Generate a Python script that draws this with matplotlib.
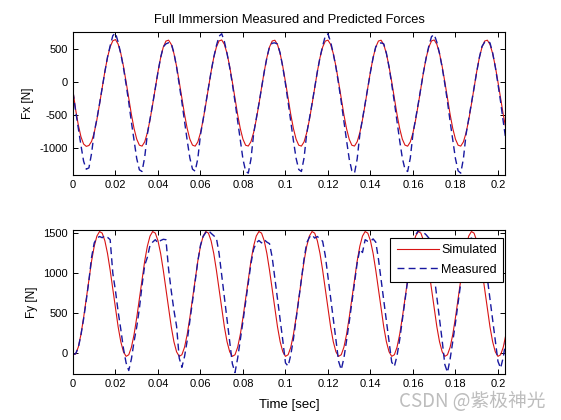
import numpy as np
import matplotlib

matplotlib.use("Agg")
import matplotlib.pyplot as plt

# sample step of the traces [s]
DT = 0.00125

# Fx, simulated (red) and measured (blue)
FX_SIM = [
    -140, -420, -650, -830, -940, -975, -962, -900, -768, -572, -336, -86, 158, 370, 530, 622, 640, 572, 432, 236,
    0, -251, -494, -706, -866, -957, -971, -907, -770, -575, -340, -89, 154, 366, 526, 617, 631, 567, 430, 235,
    2, -250, -492, -705, -866, -956, -972, -908, -771, -576, -340, -88, 156, 368, 528, 620, 634, 568, 430, 233,
    -2, -253, -496, -708, -867, -958, -970, -905, -768, -572, -338, -86, 155, 367, 527, 618, 630, 565, 428, 232,
    0, -251, -494, -706, -866, -957, -971, -907, -770, -575, -340, -89, 154, 366, 526, 617, 631, 567, 430, 235,
    -2, -253, -496, -708, -867, -958, -970, -905, -768, -572, -338, -86, 155, 367, 527, 618, 630, 565, 428, 232,
    2, -250, -492, -705, -866, -956, -972, -908, -771, -576, -340, -88, 156, 368, 528, 620, 634, 568, 430, 233,
    0, -251, -494, -706, -866, -957, -971, -907, -770, -575, -340, -89, 154, 366, 526, 617, 631, 567, 430, 235,
    0, -251, -494, -706,
]
FX_MEAS = [
    -150, -440, -700, -960, -1200, -1320, -1300, -1080, -760, -560, -330, -85, 150, 375, 545, 700, 740, 600, 425, 215,
    -40, -310, -610, -890, -1160, -1330, -1355, -1140, -790, -565, -335, -95, 148, 368, 530, 575, 592, 585, 440, 225,
    -35, -305, -600, -885, -1150, -1320, -1350, -1160, -800, -570, -325, -88, 155, 372, 548, 690, 728, 610, 430, 218,
    -28, -300, -595, -880, -1170, -1350, -1380, -1170, -790, -555, -332, -92, 150, 365, 535, 585, 590, 572, 436, 222,
    -32, -308, -605, -890, -1155, -1325, -1355, -1150, -780, -560, -330, -90, 152, 370, 542, 695, 727, 605, 428, 220,
    -30, -302, -598, -885, -1165, -1345, -1380, -1165, -795, -562, -334, -90, 150, 366, 532, 580, 590, 575, 434, 224,
    -34, -306, -602, -888, -1152, -1322, -1355, -1152, -785, -558, -328, -86, 154, 370, 545, 685, 717, 600, 430, 218,
    -30, -300, -600, -884, -1160, -1345, -1380, -1160, -790, -560, -332, -92, 150, 368, 538, 600, 615, 590, 440, 226,
    -30, -300, -600, -880,
]

# Fy, simulated and measured
FY_SIM = [
    -15, -10, 78, 236, 446, 683, 927, 1153, 1339, 1465, 1522, 1502, 1407, 1248, 1038, 801, 557, 331, 145, 19,
    -38, -18, 76, 236, 446, 683, 927, 1153, 1339, 1465, 1522, 1502, 1407, 1248, 1038, 801, 557, 331, 145, 19,
    -38, -18, 76, 236, 446, 683, 927, 1153, 1339, 1465, 1522, 1502, 1407, 1248, 1038, 801, 557, 331, 145, 19,
    -38, -18, 76, 236, 446, 683, 927, 1153, 1339, 1465, 1522, 1502, 1407, 1248, 1038, 801, 557, 331, 145, 19,
    -38, -18, 76, 236, 446, 683, 927, 1153, 1339, 1465, 1522, 1502, 1407, 1248, 1038, 801, 557, 331, 145, 19,
    -38, -18, 76, 236, 446, 683, 927, 1153, 1339, 1465, 1522, 1502, 1407, 1248, 1038, 801, 557, 331, 145, 19,
    -38, -18, 76, 236, 446, 683, 927, 1153, 1339, 1465, 1522, 1502, 1407, 1248, 1038, 801, 557, 331, 145, 19,
    -38, -18, 76, 236, 446, 683, 927, 1153, 1339, 1465, 1522, 1502, 1407, 1248, 1038, 801, 557, 331, 145, 19,
    -38, -18, 76, 236,
]
FY_MEAS = [
    -15, -5, 70, 230, 430, 660, 910, 1200, 1380, 1440, 1460, 1445, 1470, 1450, 1420, 1000, 780, 520, 300, 60,
    -120, -215, -70, 150, 330, 560, 850, 1100, 1200, 1350, 1390, 1420, 1380, 1410, 1425, 1420, 1050, 780, 540, 340,
    -60, -175, -40, 160, 400, 650, 900, 1150, 1350, 1460, 1510, 1535, 1500, 1470, 1440, 1250, 980, 700, 420, 150,
    -130, -240, -60, 170, 400, 640, 880, 1120, 1300, 1380, 1410, 1380, 1420, 1390, 1370, 1200, 940, 680, 420, 160,
    -120, -160, -20, 180, 420, 670, 920, 1180, 1380, 1450, 1480, 1440, 1460, 1430, 1400, 1220, 960, 700, 430, 170,
    -100, -205, -60, 160, 390, 630, 880, 1130, 1300, 1260, 1420, 1400, 1400, 1430, 1390, 1180, 920, 660, 400, 140,
    -110, -165, -30, 170, 410, 660, 910, 1160, 1370, 1480, 1530, 1535, 1510, 1480, 1440, 1240, 970, 700, 430, 160,
    -140, -238, -70, 150, 380, 630, 880, 1130, 1330, 1420, 1440, 1420, 1440, 1410, 1390, 1200, 940, 680, 420, 150,
    -100, -185, -50, 170,
]

X_TICKS = [0, 0.02, 0.04, 0.06, 0.08, 0.1, 0.12, 0.14, 0.16, 0.18, 0.2]
X_LABELS = ["0", "0.02", "0.04", "0.06", "0.08", "0.1", "0.12", "0.14", "0.16", "0.18", "0.2"]
FX_TICKS = [-1000, -500, 0, 500]
FY_TICKS = [0, 500, 1000, 1500]

RED = "#d81414"
BLUE = "#1818a0"

plt.rcParams.update({
    "font.family": ["Liberation Sans", "DejaVu Sans"],
    "font.size": 8,
    "axes.unicode_minus": False,
    "axes.linewidth": 0.8,
    "xtick.direction": "in",
    "ytick.direction": "in",
    "xtick.top": True,
    "ytick.right": True,
    "xtick.major.size": 3.5,
    "ytick.major.size": 3.5,
    "xtick.major.width": 0.7,
    "ytick.major.width": 0.7,
})


def time_axis(values):
    return np.arange(len(values)) * DT


def style_axes(ax, yticks, ylim):
    ax.set_xlim(0, 0.2033)
    ax.set_ylim(*ylim)
    ax.set_xticks(X_TICKS)
    ax.set_xticklabels(X_LABELS)
    ax.set_yticks(yticks)
    ax.tick_params(labelsize=8, pad=3.5)


fig = plt.figure(figsize=(5.61, 4.2), dpi=100)
ax1 = fig.add_axes([0.1301, 0.5838, 0.770, 0.3412])
ax2 = fig.add_axes([0.1301, 0.11, 0.770, 0.3412])

ax1.plot(time_axis(FX_SIM), FX_SIM, color=RED, lw=0.8)
ax1.plot(time_axis(FX_MEAS), FX_MEAS, color=BLUE, lw=1.0, dashes=(5, 3))
style_axes(ax1, FX_TICKS, (-1405, 762))
ax1.set_ylabel("Fx [N]", fontsize=8.5, labelpad=4)
ax1.set_title("Full Immersion Measured and Predicted Forces", fontsize=9.3, pad=6)

ax2.plot(time_axis(FY_SIM), FY_SIM, color=RED, lw=0.8, label="Simulated")
ax2.plot(time_axis(FY_MEAS), FY_MEAS, color=BLUE, lw=1.0, dashes=(5, 3), label="Measured")
style_axes(ax2, FY_TICKS, (-256, 1535))
ax2.set_ylabel("Fy [N]", fontsize=8.5, labelpad=4)
ax2.set_xlabel("Time [sec]", fontsize=9.5, labelpad=7.5)

leg = ax2.legend(loc="upper right", bbox_to_anchor=(0.9954, 0.9477), borderaxespad=0,
                 fontsize=9, handlelength=3.4, handletextpad=0.15, labelspacing=0.6,
                 borderpad=0.5, fancybox=False, framealpha=1, edgecolor="black")
leg.get_frame().set_linewidth(0.8)
leg.set_zorder(10)

fig.text(0.972, 0.045, "CSDN @紫极神光", ha="right", va="center", fontsize=13.5,
         color="#bdbdbd", family=["Noto Sans CJK SC", "DejaVu Sans"])

fig.savefig("out.png", dpi=100, facecolor="white")
